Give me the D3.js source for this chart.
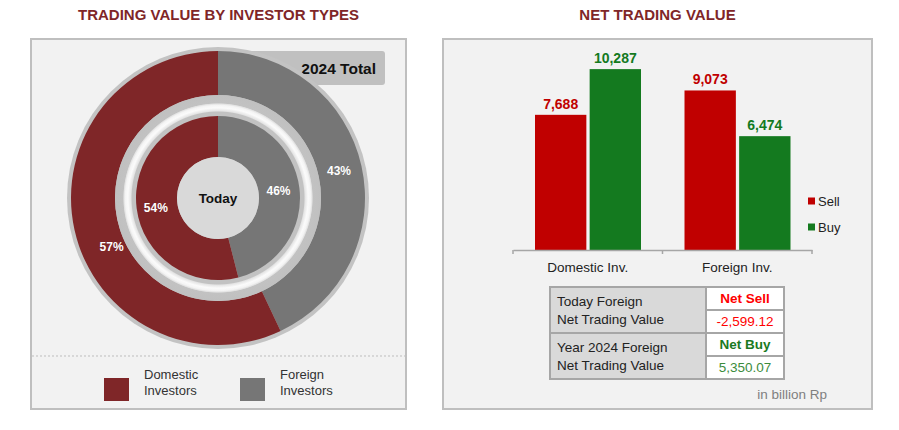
<!DOCTYPE html>
<html><head><meta charset="utf-8">
<script src="https://cdn.jsdelivr.net/npm/d3@7"></script>
<style>
html,body{margin:0;padding:0;background:#fff;}
svg{display:block;font-family:"Liberation Sans",Arial,sans-serif;}
</style></head>
<body>
<svg id="chart" width="899" height="430"></svg>
<script>
// ---------- DATA ----------
const investorTypes = ["Domestic Investors", "Foreign Investors"];
const legendLines = [["Domestic", "Investors"], ["Foreign", "Investors"]];
const totalShare2024 = [57, 43];
const todayShare = [54, 46];
const barCategories = ["Domestic Inv.", "Foreign Inv."];
const seriesNames = ["Sell", "Buy"];
const sellValues = [7688, 9073];
const buyValues = [10287, 6474];
const netRowLabels = [["Today Foreign", "Net Trading Value"], ["Year 2024 Foreign", "Net Trading Value"]];
const netStatus = ["Net Sell", "Net Buy"];
const netValues = [-2599.12, 5350.07];

// ---------- STYLE ----------
const C = {
  title: "#7f2628", panelBg: "#f2f2f2", panelBorder: "#bfbfbf",
  domestic: "#7f2628", foreign: "#767676",
  sell: "#c00000", buy: "#147a1f", netSell: "#ff0000", netBuy: "#1a7a22"
};
const pieColors = [C.domestic, C.foreign];
const fmtLocale = d3.formatLocale({decimal: ".", thousands: ",", grouping: [3], currency: ["", ""], minus: "-"});
const svg = d3.select("#chart");
const defs = svg.append("defs");

// panels
function panel(x0, x1) {
  svg.append("rect").attr("x", x0).attr("y", 39).attr("width", x1 - x0).attr("height", 370)
    .attr("fill", C.panelBg).attr("stroke", C.panelBorder).attr("stroke-width", 2);
}
panel(31, 406);
panel(443, 872);

svg.append("text").attr("x", 218.5).attr("y", 20).attr("text-anchor", "middle")
  .attr("font-size", 15).attr("font-weight", "bold").attr("fill", C.title)
  .text("TRADING VALUE BY INVESTOR TYPES");
svg.append("text").attr("x", 657.5).attr("y", 20).attr("text-anchor", "middle")
  .attr("font-size", 15).attr("font-weight", "bold").attr("fill", C.title)
  .text("NET TRADING VALUE");

// ---------- DONUT ----------
const cx = 218, cy = 198;
// "2024 Total" tag (behind donut)
svg.append("rect").attr("x", cx).attr("y", 51).attr("width", 167).attr("height", 34)
  .attr("rx", 3).attr("fill", "#c0c0c0");
svg.append("text").attr("x", 376).attr("y", 74).attr("text-anchor", "end")
  .attr("font-size", 15.5).attr("font-weight", "bold").attr("fill", "#111").text("2024 Total");

const g = svg.append("g").attr("transform", `translate(${cx},${cy})`);
g.append("circle").attr("r", 151).attr("fill", "#c3c3c3");

const grad = defs.append("radialGradient").attr("id", "sep")
  .attr("cx", "50%").attr("cy", "50%").attr("r", "50%");
[[0, "#c2c2c2"], [0.835, "#c2c2c2"], [0.845, "#e4e4e4"], [0.875, "#fbfbfb"], [0.9, "#f4f4f4"],
 [0.915, "#e0e0e0"], [0.922, "#c2c2c2"], [1, "#c0c0c0"]]
  .forEach(([o, c]) => grad.append("stop").attr("offset", o).attr("stop-color", c));

const order = [1, 0]; // foreign first, clockwise from top
// label placement per ring: [radius, angle shift in degrees per investor type]
function ring(shares, rIn, rOut, labelR, angleShift) {
  const arcs = d3.pie().sort(null).value(i => shares[i])(order);
  const arc = d3.arc().innerRadius(rIn).outerRadius(rOut);
  g.selectAll(null).data(arcs).enter().append("path")
    .attr("d", arc).attr("fill", d => pieColors[d.data]);
  g.selectAll(null).data(arcs).enter().append("text")
    .attr("transform", d => {
      const a = (d.startAngle + d.endAngle) / 2 + angleShift[d.data] * Math.PI / 180;
      const r = labelR[d.data];
      return `translate(${r * Math.sin(a)},${-r * Math.cos(a)})`;
    })
    .attr("text-anchor", "middle").attr("dy", "0.36em")
    .attr("font-size", 12).attr("font-weight", "bold").attr("fill", "#fff")
    .attr("stroke", "rgba(0,0,0,0.15)").attr("stroke-width", 0.6).attr("paint-order", "stroke")
    .text(d => shares[d.data] + "%");
}
ring(totalShare2024, 103, 147, [117, 124], [-12, 0]);
g.append("circle").attr("r", 103).attr("fill", "url(#sep)");
ring(todayShare, 41, 82, [63, 61], [-2, 0]);
g.append("circle").attr("r", 41).attr("fill", "#d9d9d9");
g.append("text").attr("text-anchor", "middle").attr("dy", "0.36em")
  .attr("font-size", 13.5).attr("font-weight", "bold").attr("fill", "#111").text("Today");

// legend
svg.append("line").attr("x1", 32).attr("x2", 405).attr("y1", 356).attr("y2", 356)
  .attr("stroke", "#bdbdbd").attr("stroke-dasharray", "2,2");
const legX = d3.scaleOrdinal().domain(investorTypes).range([104, 240]);
investorTypes.forEach((t, i) => {
  const x = legX(t);
  svg.append("rect").attr("x", x).attr("y", 378).attr("width", 25).attr("height", 23)
    .attr("fill", pieColors[i]);
  legendLines[i].forEach((ln, j) => {
    svg.append("text").attr("x", x + 40).attr("y", 378.5 + j * 16)
      .attr("font-size", 13).attr("fill", "#333").text(ln);
  });
});

// ---------- BARS ----------
const x0 = d3.scaleBand().domain(barCategories).range([513, 812]);
const x1 = d3.scaleBand().domain(seriesNames).range([22, 128]).paddingInner(0.06);
const y = d3.scaleLinear().domain([0, 12000]).range([250, 39]);
const seriesVals = { Sell: sellValues, Buy: buyValues };
const seriesCol = { Sell: C.sell, Buy: C.buy };
const bars = svg.append("g");
barCategories.forEach((cat, ci) => {
  seriesNames.forEach(s => {
    const v = seriesVals[s][ci];
    const bx = x0(cat) + x1(s);
    bars.append("rect").attr("x", bx).attr("y", y(v)).attr("width", x1.bandwidth())
      .attr("height", y(0) - y(v)).attr("fill", seriesCol[s]);
    bars.append("text").attr("x", bx + x1.bandwidth() / 2).attr("y", y(v) - 6)
      .attr("text-anchor", "middle").attr("font-size", 14).attr("font-weight", "bold")
      .attr("fill", seriesCol[s]).text(fmtLocale.format(",")(v));
  });
});
// axis
const ax = svg.append("g").attr("transform", "translate(0,250)")
  .call(d3.axisBottom(x0).tickSize(0).tickPadding(17));
ax.select(".domain").attr("stroke", "#a6a6a6").attr("stroke-width", 1.5);
ax.selectAll("text").attr("font-size", 13.5).attr("fill", "#222")
  .attr("font-family", "'Liberation Sans',Arial,sans-serif").attr("dy", "0.35em").attr("y", 17);
const bounds = barCategories.map(c => x0(c)).concat([x0.range()[1]]);
ax.selectAll(null).data(bounds).enter().append("line")
  .attr("x1", d => d).attr("x2", d => d).attr("y1", 0).attr("y2", 4)
  .attr("stroke", "#a6a6a6").attr("stroke-width", 1.5);

// bar legend
const legY = d3.scaleOrdinal().domain(seriesNames).range([201, 227]);
seriesNames.forEach(s => {
  svg.append("rect").attr("x", 808).attr("y", legY(s) - 3.5).attr("width", 7).attr("height", 7)
    .attr("fill", seriesCol[s]);
  svg.append("text").attr("x", 818).attr("y", legY(s)).attr("dy", "0.35em")
    .attr("font-size", 13).attr("fill", "#222").text(s);
});

// ---------- TABLE ----------
const tx0 = 550, tsplit = 706, tx1 = 784;
const rowY = d3.scaleBand().domain([0, 1]).range([287, 379]);
const tbl = svg.append("g");
[0, 1].forEach(r => {
  const ry = rowY(r), rh = rowY.bandwidth();
  tbl.append("rect").attr("x", tx0).attr("y", ry).attr("width", tsplit - tx0).attr("height", rh)
    .attr("fill", "#d9d9d9").attr("stroke", "#a6a6a6").attr("stroke-width", 2);
  tbl.append("rect").attr("x", tsplit).attr("y", ry).attr("width", tx1 - tsplit).attr("height", rh / 2)
    .attr("fill", "#fff").attr("stroke", "#a6a6a6").attr("stroke-width", 2);
  tbl.append("rect").attr("x", tsplit).attr("y", ry + rh / 2).attr("width", tx1 - tsplit).attr("height", rh / 2)
    .attr("fill", "#fff").attr("stroke", "#a6a6a6").attr("stroke-width", 2);
  netRowLabels[r].forEach((ln, j) => {
    tbl.append("text").attr("x", 557).attr("y", ry + 14 + j * 18.5).attr("dy", "0.35em")
      .attr("font-size", 13.5).attr("fill", "#222").text(ln);
  });
  const col = netValues[r] < 0 ? C.netSell : C.netBuy;
  tbl.append("text").attr("x", (tsplit + tx1) / 2).attr("y", ry + rh / 4).attr("dy", "0.35em")
    .attr("text-anchor", "middle").attr("font-size", 13.5).attr("font-weight", "bold")
    .attr("fill", col).text(netStatus[r]);
  tbl.append("text").attr("x", (tsplit + tx1) / 2).attr("y", ry + rh * 3 / 4).attr("dy", "0.35em")
    .attr("text-anchor", "middle").attr("font-size", 13.5)
    .attr("fill", netValues[r] < 0 ? C.netSell : "#3c8c3c").text(fmtLocale.format(",.2f")(netValues[r]));
});
svg.append("text").attr("x", 827).attr("y", 394).attr("dy", "0.35em").attr("text-anchor", "end")
  .attr("font-size", 13.5).attr("fill", "#7f7f7f").text("in billion Rp");
</script>
</body></html>
